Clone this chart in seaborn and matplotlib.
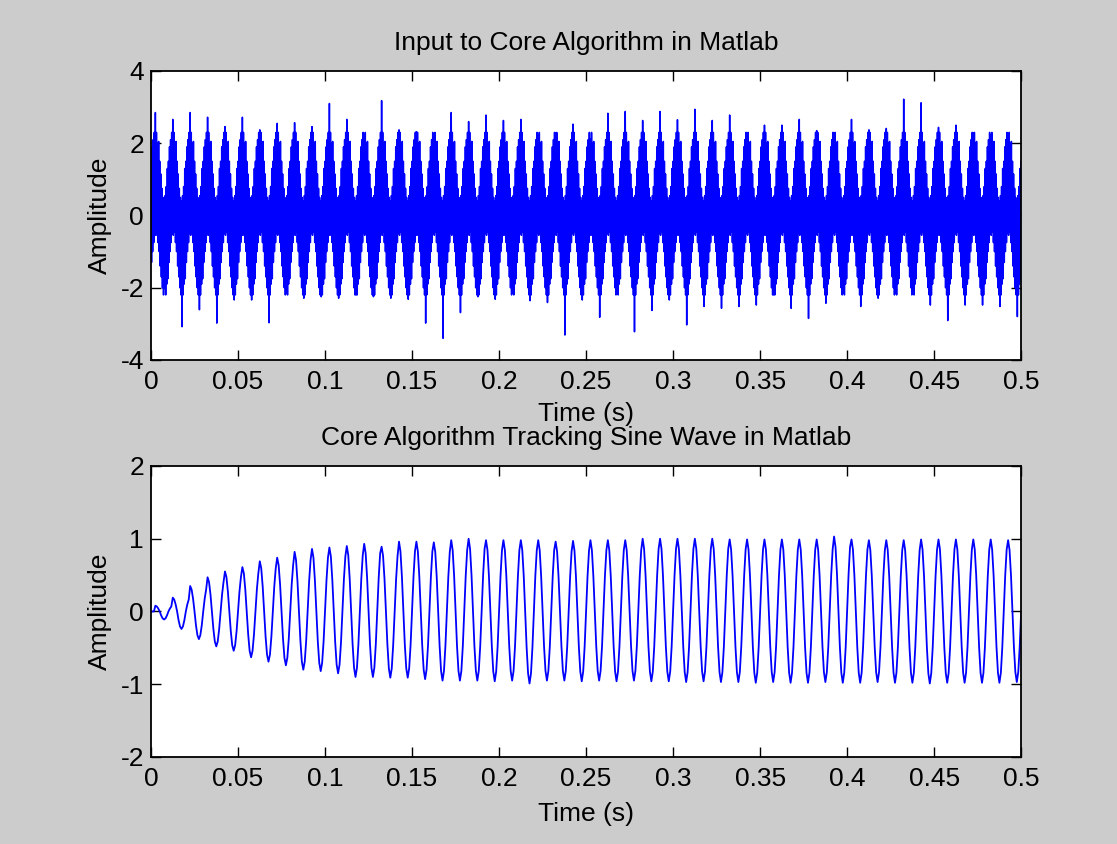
import numpy as np
import pandas as pd
import matplotlib
matplotlib.use("Agg")
import matplotlib.pyplot as plt
from matplotlib.ticker import FixedLocator, FixedFormatter
import seaborn as sns

# ---------------- data ----------------
x_ticks = [0, 0.05, 0.1, 0.15, 0.2, 0.25, 0.3, 0.35, 0.4, 0.45, 0.5]
x_tick_labels = ["0", "0.05", "0.1", "0.15", "0.2", "0.25", "0.3", "0.35", "0.4", "0.45", "0.5"]
top_y_ticks = [-4, -2, 0, 2, 4]
top_y_labels = ["-4", "-2", "0", "2", "4"]
bottom_y_ticks = [-2, -1, 0, 1, 2]
bottom_y_labels = ["-2", "-1", "0", "1", "2"]

first_peak_time = 0.0025   # time of first positive crest (s)
cycle_length = 0.01        # 100 Hz fundamental

# Input signal: tallest spike of each cycle (positive crest) and deepest spike (negative crest)
top_peaks = [2.85, 2.66, 2.85, 2.72, 2.46, 2.72, 2.37, 2.55, 2.57, 2.46,
             3.10, 2.66, 2.23, 3.18, 2.37, 2.32, 2.18, 2.85, 2.60, 2.78,
             2.63, 2.66, 2.23, 2.29, 2.53, 2.11, 2.83, 2.88, 2.63, 2.88,
             2.65, 2.94, 2.63, 2.78, 2.23, 2.50, 2.50, 2.66, 2.35, 2.27,
             2.66, 2.37, 2.41, 3.22, 3.12, 2.44, 2.50, 2.29, 2.23, 2.23]
top_troughs = [-2.02, -3.08, -2.61, -2.98, -2.34, -2.34, -2.97, -2.15, -2.29, -2.25,
               -2.29, -2.20, -2.25, -2.29, -2.32, -2.98, -3.40, -2.69, -2.25, -2.32,
               -2.15, -2.36, -2.41, -3.31, -2.34, -2.82, -2.06, -3.22, -2.63, -2.34,
               -3.03, -2.52, -2.57, -2.52, -2.48, -2.20, -2.57, -2.85, -2.43, -2.15,
               -2.52, -2.29, -2.15, -2.14, -2.48, -2.91, -2.48, -2.48, -2.52, -2.80]
# Upper and lower edge of the dense noise band across one cycle (16 steps, starting at crest)
edge_hi = [2.4, 2.3, 2.0, 2.05, 1.5, 1.15, 0.75, 0.5, 0.4, 0.55, 0.8, 1.3, 1.5, 1.9, 2.1, 2.3]
edge_lo = [-0.55, -0.45, -0.75, -1.0, -1.4, -1.7, -2.0, -2.2, -2.3, -2.2, -1.9, -1.75, -1.3, -1.0, -0.75, -0.5]
trough_step = 8

# Tracking output: crest and trough amplitude of each cycle
bottom_peaks = [0.08, 0.19, 0.35, 0.47, 0.55, 0.61, 0.69, 0.74, 0.82, 0.86,
                0.88, 0.90, 0.93, 0.89, 0.96, 0.96, 0.95, 0.98, 1.00, 0.98,
                0.98, 0.98, 0.98, 0.96, 0.97, 0.98, 0.98, 0.98, 1.00, 1.00,
                1.00, 1.00, 1.00, 0.99, 0.99, 0.99, 0.99, 0.99, 0.99, 1.03,
                0.99, 0.98, 0.98, 0.98, 0.99, 0.99, 0.99, 0.99, 0.99, 0.98]
bottom_troughs = [-0.11, -0.24, -0.38, -0.48, -0.54, -0.63, -0.69, -0.74, -0.80, -0.82,
                  -0.85, -0.90, -0.90, -0.91, -0.91, -0.93, -0.95, -0.95, -0.95, -0.96,
                  -0.95, -0.99, -0.95, -0.95, -0.96, -0.95, -0.96, -0.95, -0.96, -0.96,
                  -0.97, -0.96, -0.97, -0.97, -0.98, -0.97, -0.98, -0.98, -0.97, -0.98,
                  -0.98, -0.97, -0.98, -0.98, -0.99, -0.98, -0.98, -0.98, -0.98, -0.97]
wave_shape = [1.0, 0.86, 0.5, 0.0, -0.5, -0.86, -1.0, -0.86, -0.5, 0.0, 0.5, 0.86]
bottom_start_value = 0.0

titles = ["Input to Core Algorithm in Matlab", "Core Algorithm Tracking Sine Wave in Matlab"]
x_label = "Time (s)"
y_label = "Amplitude"

# ---------------- build series ----------------
n_steps = len(edge_hi)
step = cycle_length / n_steps
t_top, v_top = [], []
for k in range(-1, len(top_peaks)):
    for j in range(n_steps):
        t = first_peak_time + k * cycle_length + j * step
        if t < -1e-9 or t > 0.5 + 1e-9:
            continue
        hi = edge_hi[j]
        lo = edge_lo[j]
        if k >= 0 and j == 0:
            hi = top_peaks[k]
        if k >= 0 and j == trough_step:
            lo = top_troughs[k]
        t_top += [t, min(t + step / 2, 0.5)]
        v_top += [hi, lo]
df_top = pd.DataFrame({"t": t_top, "v": v_top})

n_w = len(wave_shape)
w_step = cycle_length / n_w
t_bot, v_bot = [0.0], [bottom_start_value]
for k in range(-1, len(bottom_peaks)):
    for j in range(n_w):
        t = first_peak_time + k * cycle_length + j * w_step
        if t <= 1e-9 or t > 0.5 + 1e-9:
            continue
        s = wave_shape[j]
        if k < 0:
            v = bottom_start_value
        else:
            v = s * bottom_peaks[k] if s >= 0 else -s * bottom_troughs[k]
        t_bot.append(t)
        v_bot.append(v)
df_bot = pd.DataFrame({"t": t_bot, "v": v_bot})

# ---------------- style ----------------
sns.set_style("ticks")
fs = 19
plt.rcParams["font.family"] = ["Liberation Sans", "DejaVu Sans"]
plt.rcParams["axes.unicode_minus"] = False
plt.rcParams["text.color"] = "black"
plt.rcParams["axes.labelcolor"] = "black"

fig = plt.figure(figsize=(11.17, 8.44), dpi=100, facecolor="#cccccc")
ax_top = fig.add_axes([0.1352, 0.5735, 0.779, 0.3424])
ax_bot = fig.add_axes([0.1352, 0.1031, 0.779, 0.3448])

sns.lineplot(data=df_top, x="t", y="v", ax=ax_top, color="#0000ff", linewidth=1.1,
             estimator=None, sort=False)
sns.lineplot(data=df_bot, x="t", y="v", ax=ax_bot, color="#0000ff", linewidth=1.3,
             estimator=None, sort=False)

for ax, yt, yl, (lo, hi), title, xpad in [
    (ax_top, top_y_ticks, top_y_labels, (-4, 4), titles[0], 6),
    (ax_bot, bottom_y_ticks, bottom_y_labels, (-2, 2), titles[1], 8),
]:
    ax.set_facecolor("white")
    ax.set_xlim(0, 0.5)
    ax.set_ylim(lo, hi)
    ax.xaxis.set_major_locator(FixedLocator(x_ticks))
    ax.xaxis.set_major_formatter(FixedFormatter(x_tick_labels))
    ax.yaxis.set_major_locator(FixedLocator(yt))
    ax.yaxis.set_major_formatter(FixedFormatter(yl))
    ax.tick_params(direction="in", length=7, width=1.0, top=True, right=True,
                   labelsize=fs, colors="black", labelcolor="black", pad=5)
    ax.tick_params(axis="x", pad=7)
    for s in ax.spines.values():
        s.set_visible(True)
        s.set_color("black")
        s.set_linewidth(1.3)
    ax.set_xlabel(x_label, fontsize=fs, labelpad=xpad, color="black")
    ax.set_ylabel(y_label, fontsize=fs, labelpad=6, color="black")
    ax.set_title(title, fontsize=fs, pad=15, color="black")

fig.savefig("out.png", dpi=100, facecolor=fig.get_facecolor())
